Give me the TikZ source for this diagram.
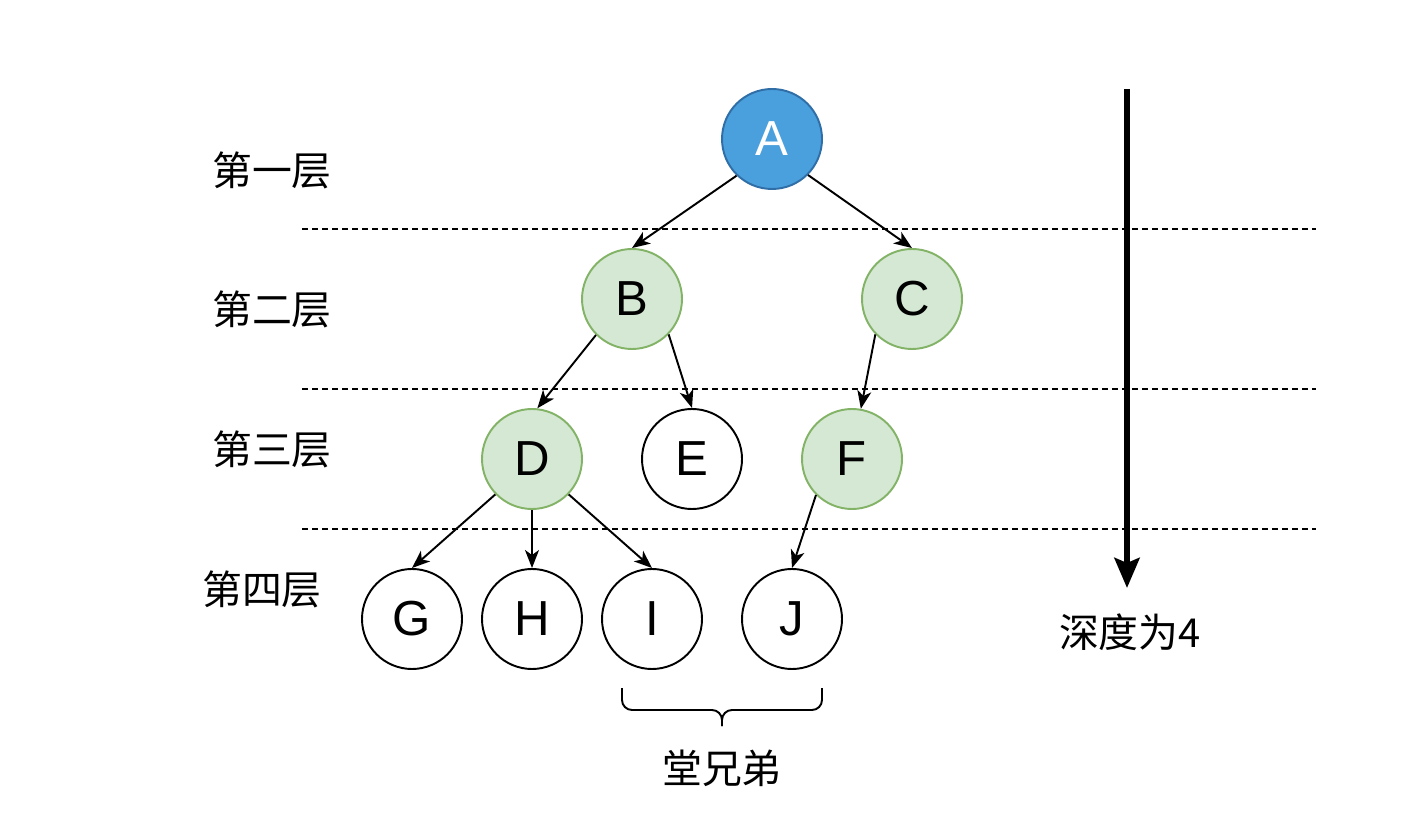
\documentclass[tikz,border=0pt]{standalone}
\usepackage{fontspec}
\setmainfont{Liberation Sans}
\newfontfamily\cjk{Noto Sans CJK SC}
\usetikzlibrary{arrows.meta}

\definecolor{rootfill}{HTML}{4A9FDD}
\definecolor{rootline}{HTML}{2F6EA6}
\definecolor{greenfill}{HTML}{D5E8D4}
\definecolor{greenline}{HTML}{82B366}

\begin{document}
\begin{tikzpicture}[
		treenode/.style={circle,draw,line width=1.1pt,minimum size=2cm,inner sep=0pt,font=\fontsize{28}{30}\selectfont},
		rootnode/.style={treenode,fill=rootfill,draw=rootline,text=white},
		greennode/.style={treenode,fill=greenfill,draw=greenline},
		edge/.style={-{Stealth[length=0.36cm,width=0.28cm,inset=0.1cm]},line width=1.1pt},
		lvl/.style={font=\cjk\fontsize{22.7}{26}\selectfont}
	]
		\useasboundingbox (0,0) rectangle (28.52,-16.64);
		% levels
		\foreach \y in {-4.58,-7.78,-10.58}{
			\draw[line width=1.1pt,dash pattern=on 0.12cm off 0.08cm] (6.04,\y) -- (26.32,\y);
		}
		\node[lvl] (l1) at (5.44,-3.40) {第一层};
		\node[lvl] (l2) at (5.44,-6.18) {第二层};
		\node[lvl] (l3) at (5.44,-8.98) {第三层};
		\node[lvl] (l4) at (5.24,-11.78) {第四层};
		% tree
		\node[rootnode] (A) at (15.44,-2.78) {A};
		\node[greennode] (B) at (12.64,-5.98) {B};
		\node[greennode] (C) at (18.24,-5.98) {C};
		\node[greennode] (D) at (10.64,-9.18) {D};
		\node[treenode] (E) at (13.84,-9.18) {E};
		\node[greennode] (F) at (17.04,-9.18) {F};
		\node[treenode] (G) at (8.24,-12.38) {G};
		\node[treenode] (H) at (10.64,-12.38) {H};
		\node[treenode] (I) at (13.04,-12.38) {I};
		\node[treenode] (J) at (15.84,-12.38) {J};
		\draw[edge] (A.226) -- (B.north);
		\draw[edge] (A.-45) -- (C.north);
		\draw[edge] (B.225) -- (D.84);
		\draw[edge] (B.-44) -- (E.north);
		\draw[edge] (C.224) -- (F.80);
		\draw[edge] (D.224) -- (G.north);
		\draw[edge] (D.south) -- (H.north);
		\draw[edge] (D.-44) -- (I.north);
		\draw[edge] (F.225) -- (J.north);
		% depth
		\coordinate (top) at (22.54,-1.78);
		\coordinate (bottom) at (22.54,-11.76);
		\draw[line width=3.4pt,-{Stealth[length=0.6cm,width=0.5cm,inset=0.1cm]}] (top) -- (bottom);
		\node[lvl] (depth) at (22.60,-12.64) {深度为4};
		% brace
		\draw[line width=1.1pt,rounded corners=0.2cm] (12.44,-13.76) -- (12.44,-14.2) -- (14.44,-14.2) -- (14.44,-14.52);
		\draw[line width=1.1pt,rounded corners=0.2cm] (16.44,-13.76) -- (16.44,-14.2) -- (14.44,-14.2) -- (14.44,-14.52);
		\node[lvl] (cousin) at (14.44,-15.36) {堂兄弟};
	\end{tikzpicture}
\end{document}
